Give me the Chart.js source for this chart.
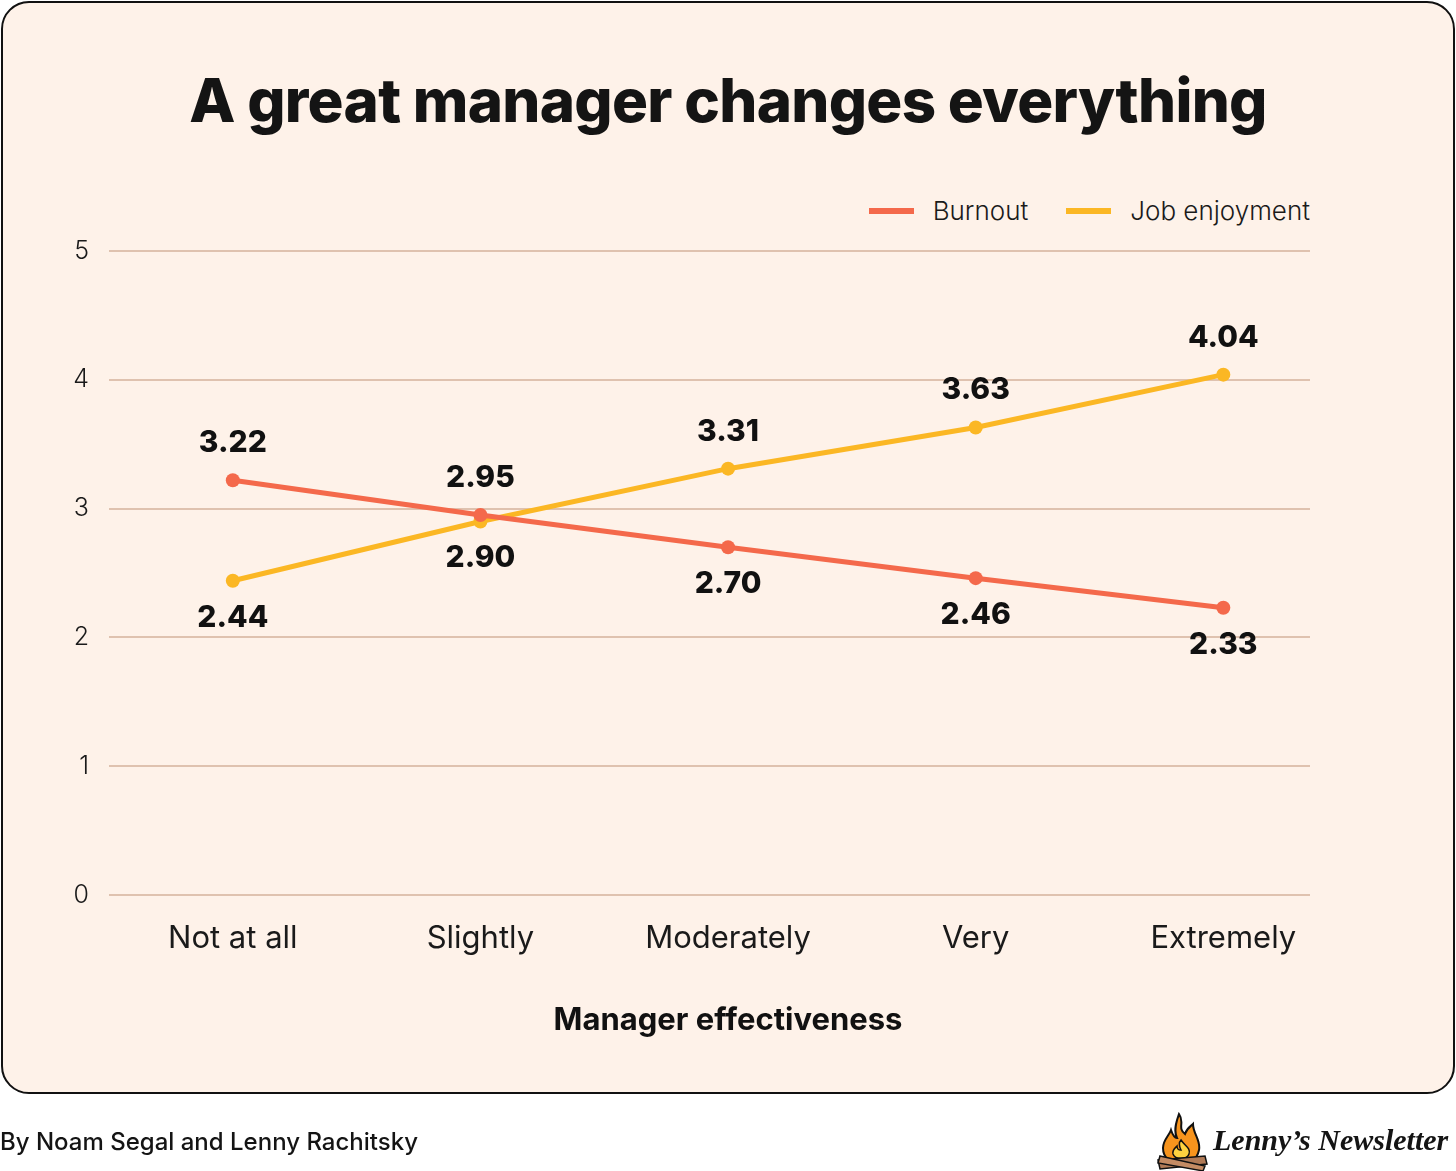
<!DOCTYPE html>
<html>
<head>
<meta charset="utf-8">
<script src="https://cdn.jsdelivr.net/npm/chart.js@4.4.0/dist/chart.umd.min.js"></script>
<style>
  html, body { margin: 0; padding: 0; width: 1456px; height: 1171px; overflow: hidden; background: #fff; font-family: Inter, "Noto Sans", sans-serif; color: #141414; }
  .card { position: absolute; left: 1px; top: 1px; width: 1454px; height: 1093px; box-sizing: border-box; border: 2px solid #111; border-radius: 28px; background: #FEF2E9; }
  .title { position: absolute; left: 0; top: 70px; width: 1456px; text-align: center; font-size: 60px; line-height: 60px; font-weight: 800; letter-spacing: -0.7px; }
  .legend { position: absolute; right: 146px; top: 196px; display: flex; align-items: center; font-size: 26px; line-height: 30px; font-weight: 300; color: #1a1a1a; }
  .legend .item { display: flex; align-items: center; margin-left: 38px; }
  .legend .swatch { width: 45px; height: 6px; margin-right: 19px; }
  .xtitle { position: absolute; left: 0; top: 1000px; width: 1456px; text-align: center; font-size: 31px; line-height: 38px; font-weight: 700; color: #111; }
  .wrap { position: absolute; left: 0; top: 0; width: 1456px; height: 1171px; }
  .footer { position: absolute; left: 0; top: 1130px; font-size: 24px; line-height: 24px; font-weight: 500; white-space: nowrap; }
  .logo { position: absolute; left: 1155px; top: 1112px; }
  .brand { position: absolute; left: 1213px; top: 1124px; font-family: "Liberation Serif", serif; font-style: italic; font-weight: 700; font-size: 30px; line-height: 32px; white-space: nowrap; }
</style>
</head>
<body>
<div class="card"></div>
<div class="title">A great manager changes everything</div>
<div class="legend" id="legend"></div>
<div class="wrap"><canvas id="effect-chart"></canvas></div>
<div class="xtitle">Manager effectiveness</div>
<div class="footer">By Noam Segal and Lenny Rachitsky</div>
<svg class="logo" width="54" height="60" viewBox="0 0 54 60">
  <path d="M24 2 C30 10 22 16 30 22 C32 16 36 14 38 12 C38 22 46 28 44 38 C42 48 34 52 26 52 C16 52 8 46 8 36 C8 28 14 24 16 18 C18 24 20 26 22 26 C18 18 22 8 24 2 Z" fill="#F7941D" stroke="#111" stroke-width="2"/>
  <path d="M26 28 C30 34 36 36 34 42 C32 48 20 48 18 42 C17 38 20 36 22 34 C22 38 24 38 26 38 C24 34 24 30 26 28 Z" fill="#FFD23F" stroke="#111" stroke-width="1.5"/>
  <path d="M3 48 L50 44 L52 52 L5 57 Z" fill="#B07A56" stroke="#111" stroke-width="1.5"/>
  <path d="M5 44 L50 54 L48 59 L3 51 Z" fill="#C48B63" stroke="#111" stroke-width="1.5"/>
</svg>
<div class="brand">Lenny’s Newsletter</div>

<script>
const categories = ["Not at all", "Slightly", "Moderately", "Very", "Extremely"];
const burnout = [3.22, 2.95, 2.70, 2.46, 2.23];
const burnoutLabels = ["3.22", "2.95", "2.70", "2.46", "2.33"];
const jobEnjoyment = [2.44, 2.90, 3.31, 3.63, 4.04];
const jobEnjoymentLabels = ["2.44", "2.90", "3.31", "3.63", "4.04"];
const yTicks = [0, 1, 2, 3, 4, 5];

const seriesNames = ["Burnout", "Job enjoyment"];
const seriesColors = ["#F4694B", "#FBB724"];
const seriesLabels = [burnoutLabels, jobEnjoymentLabels];

// legend (html)
const legendEl = document.getElementById("legend");
seriesNames.forEach((name, i) => {
  const item = document.createElement("div");
  item.className = "item";
  item.innerHTML = '<span class="swatch" style="background:' + seriesColors[i] + '"></span>' + name;
  legendEl.appendChild(item);
});

const toPoints = (arr) => arr.map((v, i) => ({ x: i, y: v }));

// value labels above the higher series, below the lower one
const valueLabels = {
  id: "valueLabels",
  afterDatasetsDraw(chart) {
    const ctx = chart.ctx;
    ctx.save();
    ctx.font = "800 30px Inter";
    ctx.fillStyle = "#111";
    ctx.textAlign = "center";
    ctx.textBaseline = "middle";
    chart.data.datasets.forEach((ds, di) => {
      const meta = chart.getDatasetMeta(di);
      meta.data.forEach((pt, i) => {
        const others = chart.data.datasets.map((d) => d.data[i].y);
        const isTop = ds.data[i].y >= Math.max(...others);
        const y = isTop ? pt.y - 37 : pt.y + 37;
        ctx.fillText(seriesLabels[di][i], pt.x, y);
      });
    });
    ctx.restore();
  }
};

const config = {
  type: "line",
  data: {
    datasets: [
      {
        label: seriesNames[0],
        data: toPoints(burnout),
        borderColor: seriesColors[0],
        backgroundColor: seriesColors[0],
        pointBackgroundColor: seriesColors[0],
        borderWidth: 5,
        pointRadius: 7,
        pointBorderWidth: 0,
        tension: 0
      },
      {
        label: seriesNames[1],
        data: toPoints(jobEnjoyment),
        borderColor: seriesColors[1],
        backgroundColor: seriesColors[1],
        pointBackgroundColor: seriesColors[1],
        borderWidth: 5,
        pointRadius: 7,
        pointBorderWidth: 0,
        tension: 0
      }
    ]
  },
  options: {
    responsive: true,
    maintainAspectRatio: false,
    animation: false,
    layout: { padding: { left: 49, right: 146, top: 251, bottom: 126 } },
    plugins: {
      legend: { display: false },
      tooltip: { enabled: false }
    },
    scales: {
      x: {
        type: "linear",
        min: -0.5,
        max: 4.35,
        afterBuildTicks: (scale) => { scale.ticks = categories.map((c, i) => ({ value: i })); },
        afterFit: (scale) => { scale.height = 150; },
        grid: { display: false, drawTicks: false },
        border: { display: false },
        ticks: {
          padding: 25,
          color: "#1a1a1a",
          font: { family: "Inter", size: 31, weight: "400" },
          callback: (v) => categories[v]
        }
      },
      y: {
        min: 0,
        max: 5,
        afterBuildTicks: (scale) => { scale.ticks = yTicks.map((v) => ({ value: v })); },
        afterFit: (scale) => { scale.width = 60; },
        grid: { color: "#DFC2AF", lineWidth: 2, drawTicks: false },
        border: { display: false },
        ticks: {
          padding: 20,
          color: "#1a1a1a",
          font: { family: "Inter", size: 25, weight: "300" }
        }
      }
    }
  },
  plugins: [valueLabels]
};

const ctx = document.getElementById("effect-chart").getContext("2d");
window.effectChart = new Chart(ctx, config);
</script>
</body>
</html>
